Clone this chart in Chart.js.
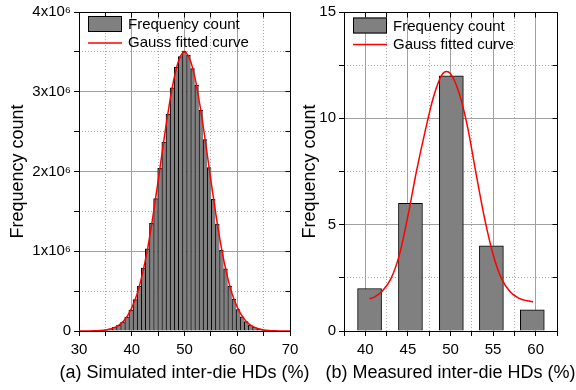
<!DOCTYPE html>
<html>
<head>
  <title>Inter-die HD histograms</title>
  <script src="https://cdn.jsdelivr.net/npm/chart.js"></script>
  <style>
    body { margin: 0; background: #fff; }
    #wrap { position: relative; width: 576px; height: 390px; overflow: hidden; }
    canvas { position: absolute; top: 0; }
    #simChart { left: 0; }
    #measChart { left: 290px; }
  </style>
</head>
<body>
<div id="wrap">
  <canvas id="simChart" width="320" height="390"></canvas>
  <canvas id="measChart" width="286" height="390"></canvas>
</div>

<script>
  // (a) simulated inter-die HDs, bin centres (%) and counts
  const simBins = [32.81, 33.59, 34.38, 35.16, 35.94, 36.72, 37.50, 38.28, 39.06, 39.84,
    40.63, 41.41, 42.19, 42.97, 43.75, 44.53, 45.31, 46.09, 46.88, 47.66,
    48.44, 49.22, 50.00, 50.78, 51.56, 52.34, 53.13, 53.91, 54.69, 55.47,
    56.25, 57.03, 57.81, 58.59, 59.38, 60.16, 60.94, 61.72, 62.50, 63.28,
    64.06, 64.84, 65.63, 66.41, 67.19];
  const simCounts = [2400, 4500, 8500, 15000, 27000, 45000, 72000, 112000, 175000, 262000,
    395000, 560000, 790000, 1030000, 1350000, 1660000, 2040000, 2370000, 2720000, 3050000,
    3310000, 3440000, 3510000, 3460000, 3290000, 3080000, 2770000, 2400000, 2050000, 1650000,
    1340000, 1010000, 780000, 560000, 400000, 270000, 178000, 118000, 73000, 45000,
    26000, 15000, 8500, 4500, 2300];
  // gauss fitted curve
  const simFitX = [30, 31, 32, 33, 34, 35, 36, 37, 38, 39, 40, 41, 42, 43, 44, 45, 46, 47, 48, 49,
    50, 51, 52, 53, 54, 55, 56, 57, 58, 59, 60, 61, 62, 63, 64, 65, 66, 67, 68, 69, 70];
  const simFitY = [200, 400, 1000, 2800, 6300, 13000, 27000, 52000, 95000, 170000,
    290000, 460000, 710000, 1030000, 1430000, 1880000, 2350000, 2790000, 3160000, 3410000,
    3500000, 3410000, 3170000, 2800000, 2360000, 1890000, 1440000, 1040000, 720000, 470000,
    300000, 180000, 100000, 54000, 28000, 13500, 6300, 2800, 1200, 500, 200];

  // (b) measured inter-die HDs
  const measBins = [40.5, 45.3, 50.1, 54.8, 59.6];
  const measCounts = [2, 6, 12, 4, 1];
  const measFitX = [40.5, 41, 42, 43, 44, 45, 46, 47, 48, 49, 49.5, 50, 51, 52, 53, 54, 55, 56, 57, 58, 59, 59.7];
  const measFitY = [1.52, 1.58, 1.88, 2.45, 3.58, 5.4, 7.5, 9.35, 11.0, 12.05, 12.2, 12.1, 11.2, 9.6, 7.4, 5.3, 3.6, 2.45, 1.85, 1.55, 1.42, 1.38];

  const legendLabels = ['Frequency count', 'Gauss fitted curve'];

  const FONT = '"Liberation Sans", Arial, sans-serif';
  Chart.defaults.font.family = FONT;
  Chart.defaults.color = '#000';

  const BAR_FILL = '#808080';
  const MAJOR_GRID = '#a0a0a0';
  const MINOR_GRID = '#a8a8a8';
  const CLEAR = 'rgba(0,0,0,0)';

  const isMajor = (v, major) => Math.abs(v / major - Math.round(v / major)) < 1e-6;
  const pts = (xs, ys) => xs.map((x, i) => ({ x: x, y: ys[i] }));

  // visible axis: ticks at every minor step, solid grid only on majors
  function mainAxis(o) {
    const horiz = o.pos === 'bottom';
    return {
      type: 'linear', position: o.pos, min: o.min, max: o.max, offset: false,
      ticks: { stepSize: o.step, autoSkip: false, maxRotation: 0, padding: o.tickPad,
               font: { size: 15 }, callback: o.label },
      grid: { offset: false, color: c => isMajor(c.tick.value, o.major) ? MAJOR_GRID : CLEAR,
              tickColor: '#000', tickLength: 5 },
      border: { color: '#000', width: 1 },
      // x titles are drawn by the axisTitle plugin (chart.js squeezes them to the axis width)
      title: { display: !horiz, text: o.title, font: { size: 18 }, padding: o.titlePad },
      afterFit: s => { if (horiz) s.height = o.size; else s.width = o.size; }
    };
  }

  // hidden axis that only draws the dotted minor grid
  function minorAxis(o) {
    const horiz = o.pos === 'bottom';
    return {
      type: 'linear', position: o.pos, min: o.min, max: o.max, offset: false,
      ticks: { display: false, stepSize: o.step, autoSkip: false },
      grid: { offset: false, drawTicks: false,
              color: c => isMajor(c.tick.value, o.major) ? CLEAR : MINOR_GRID },
      border: { display: false, dash: [1, 2] },
      afterFit: s => { if (horiz) s.height = 0; else s.width = 0; }
    };
  }

  // top/right frame with inward ticks
  const frame = {
    id: 'frame',
    afterDatasetsDraw(chart) {
      const { ctx, chartArea: a, scales: { x, y } } = chart;
      const al = v => Math.round(v - 0.5) + 0.5;
      ctx.save();
      ctx.strokeStyle = '#000';
      ctx.lineWidth = 1;
      ctx.beginPath();
      ctx.moveTo(al(a.left), al(a.top));
      ctx.lineTo(al(a.right), al(a.top));
      ctx.lineTo(al(a.right), al(a.bottom));
      y.ticks.forEach(t => {
        const p = al(y.getPixelForValue(t.value));
        ctx.moveTo(al(a.right), p); ctx.lineTo(al(a.right) - 5, p);
      });
      x.ticks.forEach(t => {
        const p = al(x.getPixelForValue(t.value));
        ctx.moveTo(p, al(a.top)); ctx.lineTo(p, al(a.top) + 5);
      });
      ctx.stroke();
      ctx.restore();
    }
  };

  // legend drawn inside the plot, top left
  const boxLegend = {
    id: 'boxLegend',
    afterDatasetsDraw(chart, args, opts) {
      const { ctx, chartArea: a } = chart;
      const x0 = a.left + 9, y0 = a.top + (opts.dy || 0);
      ctx.save();
      ctx.fillStyle = BAR_FILL;
      ctx.fillRect(x0, y0 + 4, 34, 16);
      ctx.strokeStyle = '#000';
      ctx.lineWidth = 1;
      ctx.strokeRect(x0 + 0.5, y0 + 4.5, 33, 15);
      ctx.strokeStyle = '#ff0000';
      ctx.lineWidth = 1.5;
      ctx.beginPath();
      ctx.moveTo(x0, y0 + 31);
      ctx.lineTo(x0 + 34, y0 + 31);
      ctx.stroke();
      ctx.fillStyle = '#000';
      ctx.font = '15px ' + FONT;
      ctx.textBaseline = 'alphabetic';
      ctx.fillText(legendLabels[0], x0 + 40, y0 + 17);
      ctx.fillText(legendLabels[1], x0 + 40, y0 + 35);
      ctx.restore();
    }
  };

  // x axis title centred under the plot, allowed to run past the axis ends
  const axisTitle = {
    id: 'axisTitle',
    afterDraw(chart, args, opts) {
      const { ctx, chartArea: a } = chart;
      ctx.save();
      ctx.fillStyle = '#000';
      ctx.font = '18px ' + FONT;
      ctx.textAlign = 'center';
      ctx.textBaseline = 'middle';
      ctx.fillText(opts.text, (a.left + a.right) / 2, 373);
      ctx.restore();
    }
  };

  const commonOptions = {
    responsive: false,
    animation: false,
    events: []
  };
  const hidden = { legend: { display: false }, tooltip: { enabled: false } };

  new Chart(document.getElementById('simChart'), {
    type: 'bar',
    data: {
      datasets: [{
        type: 'line',
        data: pts(simFitX, simFitY),
        borderColor: '#ff0000',
        borderWidth: 1.5,
        pointRadius: 0,
        cubicInterpolationMode: 'monotone',
        order: 0
      }, {
        data: pts(simBins, simCounts),
        backgroundColor: BAR_FILL,
        borderColor: '#000',
        borderWidth: { top: 1, left: 1, right: 0, bottom: 0 },
        barPercentage: 1,
        categoryPercentage: 1,
        order: 1
      }]
    },
    options: {
      ...commonOptions,
      layout: { padding: { left: 0, top: 11, right: 30, bottom: 0 } },
      plugins: { ...hidden, boxLegend: { dy: 0 }, axisTitle: { text: '(a) Simulated inter-die HDs (%)' } },
      scales: {
        x: mainAxis({ pos: 'bottom', min: 30, max: 70, step: 5, major: 10, size: 59, tickPad: 5,
          label: v => isMajor(v, 10) ? v : '' }),
        y: mainAxis({ pos: 'left', min: 0, max: 4e6, step: 5e5, major: 1e6, size: 79, tickPad: 3,
          title: 'Frequency count', titlePad: { top: 7, bottom: 0 },
          label: v => v === 0 ? '0' : (isMajor(v, 1e6) ? Math.round(v / 1e6) + 'x10\u2076' : '') }),
        xMinor: minorAxis({ pos: 'bottom', min: 30, max: 70, step: 5, major: 10 }),
        yMinor: minorAxis({ pos: 'left', min: 0, max: 4e6, step: 5e5, major: 1e6 })
      }
    },
    plugins: [frame, boxLegend, axisTitle]
  });

  new Chart(document.getElementById('measChart'), {
    type: 'bar',
    data: {
      datasets: [{
        type: 'line',
        data: pts(measFitX, measFitY),
        borderColor: '#ff0000',
        borderWidth: 1.5,
        pointRadius: 0,
        cubicInterpolationMode: 'monotone',
        order: 0
      }, {
        data: pts(measBins, measCounts),
        backgroundColor: BAR_FILL,
        borderColor: '#000',
        borderWidth: 1,
        barThickness: 24,
        order: 1
      }]
    },
    options: {
      ...commonOptions,
      layout: { padding: { left: 0, top: 11, right: 19, bottom: 0 } },
      plugins: { ...hidden, boxLegend: { dy: 1.5 }, axisTitle: { text: '(b) Measured inter-die HDs (%)' } },
      scales: {
        x: mainAxis({ pos: 'bottom', min: 37.5, max: 62.5, step: 2.5, major: 5, size: 59, tickPad: 5,
          label: v => isMajor(v, 5) ? v : '' }),
        y: mainAxis({ pos: 'left', min: 0, max: 15, step: 2.5, major: 5, size: 54, tickPad: 3,
          title: 'Frequency count', titlePad: { top: 9, bottom: 0 },
          label: v => isMajor(v, 5) ? v : '' }),
        xMinor: minorAxis({ pos: 'bottom', min: 37.5, max: 62.5, step: 2.5, major: 5 }),
        yMinor: minorAxis({ pos: 'left', min: 0, max: 15, step: 2.5, major: 5 })
      }
    },
    plugins: [frame, boxLegend, axisTitle]
  });
</script>
</body>
</html>
